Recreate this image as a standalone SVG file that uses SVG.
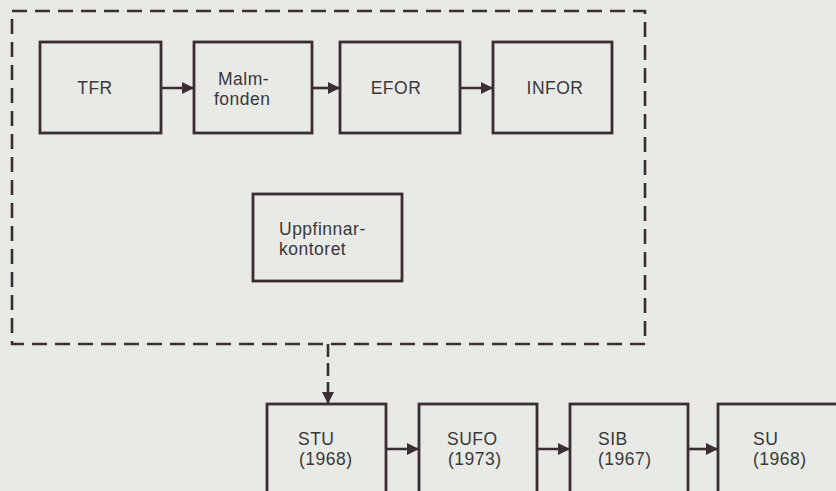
<svg xmlns="http://www.w3.org/2000/svg" width="836" height="491" viewBox="0 0 836 491">
<style>
.box{fill:none;stroke:#3a2d33;stroke-width:2.8}
.lbl{font-family:"Liberation Sans",Arial,sans-serif;font-size:17.5px;fill:#3b373a;letter-spacing:0.5px}
.conn{stroke:#3a2d33;stroke-width:2.6;fill:none}
.dash{stroke:#3a2d33;stroke-width:2.6;fill:none;stroke-dasharray:15 8}
</style>
<defs>
<marker id="ah" markerUnits="userSpaceOnUse" markerWidth="12" markerHeight="12" refX="12" refY="6" orient="auto">
<path d="M0,0 L12,6 L0,12 z" fill="#3a2d33"/>
</marker>
</defs>
<rect width="836" height="491" fill="#e7eae5"/>
<g id="group-boundary">
<rect class="dash" x="12" y="11" width="633" height="333"/>
</g>
<g id="tfr"><rect class="box" x="40" y="42" width="121" height="91"/><text class="lbl" x="95" y="94" text-anchor="middle">TFR</text></g>
<g id="malmfonden"><rect class="box" x="194" y="42" width="118" height="91"/><text class="lbl" x="218" y="85">Malm-</text><text class="lbl" x="214" y="105">fonden</text></g>
<g id="efor"><rect class="box" x="340" y="42" width="120" height="91"/><text class="lbl" x="396" y="94" text-anchor="middle">EFOR</text></g>
<g id="infor"><rect class="box" x="493" y="42" width="119" height="91"/><text class="lbl" x="555" y="94" text-anchor="middle">INFOR</text></g>
<g id="uppfinnarkontoret"><rect class="box" x="253" y="194" width="149" height="87"/><text class="lbl" x="279" y="235">Uppfinnar-</text><text class="lbl" x="279" y="255">kontoret</text></g>
<g id="stu"><rect class="box" x="267" y="404" width="119" height="100"/><text class="lbl" x="298" y="445">STU</text><text class="lbl" x="299" y="465">(1968)</text></g>
<g id="sufo"><rect class="box" x="419" y="404" width="118" height="100"/><text class="lbl" x="447" y="445">SUFO</text><text class="lbl" x="448" y="465">(1973)</text></g>
<g id="sib"><rect class="box" x="570" y="404" width="118" height="100"/><text class="lbl" x="598" y="445">SIB</text><text class="lbl" x="598" y="465">(1967)</text></g>
<g id="su"><rect class="box" x="718" y="404" width="140" height="100"/><text class="lbl" x="753" y="445">SU</text><text class="lbl" x="753" y="465">(1968)</text></g>
<g id="connectors">
<line class="conn" x1="161" y1="88" x2="194" y2="88" marker-end="url(#ah)"/>
<line class="conn" x1="312" y1="88" x2="340" y2="88" marker-end="url(#ah)"/>
<line class="conn" x1="460" y1="88" x2="493" y2="88" marker-end="url(#ah)"/>
<line class="conn" x1="386" y1="449" x2="419" y2="449" marker-end="url(#ah)"/>
<line class="conn" x1="537" y1="449" x2="570" y2="449" marker-end="url(#ah)"/>
<line class="conn" x1="688" y1="449" x2="718" y2="449" marker-end="url(#ah)"/>
<line class="conn" x1="328" y1="344" x2="328" y2="404" style="stroke-dasharray:13 6" marker-end="url(#ah)"/>
</g>
</svg>
